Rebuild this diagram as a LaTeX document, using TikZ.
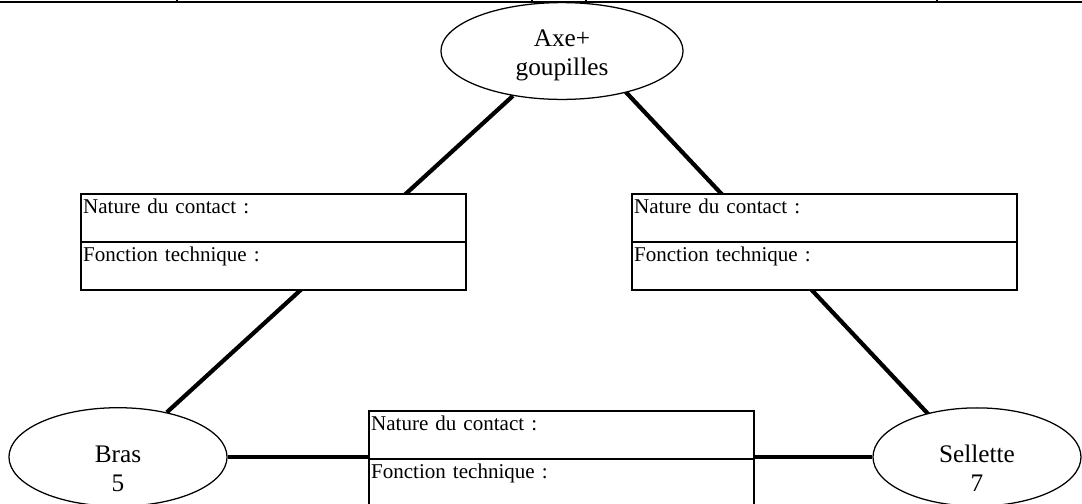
\documentclass[tikz,border=0pt]{standalone}
\usepackage{fontspec}
\setmainfont{Liberation Serif}
\usetikzlibrary{positioning,backgrounds,shapes.geometric}
\tikzset{
  piece/.style={ellipse,draw,line width=0.6pt,fill=white,inner sep=0pt,align=center,
    font=\fontsize{12}{14}\selectfont},
  cell/.style={rectangle,draw,line width=0.7pt,fill=white,anchor=north west,outer sep=0pt,
    text width=180.9pt,inner xsep=1pt,inner ysep=1.4pt,text height=8pt,text depth=12pt,
    align=left,font=\fontsize{10}{12}\selectfont},
  link/.style={line width=2pt}
}

\begin{document}
\begin{tikzpicture}[x=0.475pt,y=-0.475pt]
  \useasboundingbox (0,0) rectangle (1082,504);
  % haut du tableau
  \draw[line width=1pt] (0,2) -- (1082,2);
  \foreach \x in {177,532,586,937} \draw[line width=0.7pt] (\x,0) -- (\x,3);
  % pieces (texte un peu plus bas que le centre)
  \node[piece,minimum width=115pt,minimum height=46pt] (axe) at (562,51) {\mbox{}\\[-2pt]Axe+\\goupilles};
  \node[piece,minimum width=103.6pt,minimum height=44pt] (bras) at (118,457) {\mbox{}\\[5pt]Bras\\5};
  \node[piece,minimum width=98.8pt,minimum height=44pt] (sellette) at (977,457) {\mbox{}\\[5pt]Sellette\\7};
  % liaisons
  \node[cell] (lnat) at (81,194) {Nature du contact :};
  \node[cell,below=0pt of lnat] (lfon) {Fonction technique :};
  \node[cell] (rnat) at (632,194) {Nature du contact :};
  \node[cell,below=0pt of rnat] (rfon) {Fonction technique :};
  \node[cell] (bnat) at (369,411) {Nature du contact :};
  \node[cell,below=0pt of bnat] (bfon) {Fonction technique :};
  \begin{pgfonlayer}{background}
    \draw[link] (axe) -- (bras);
    \draw[link] ([xshift=12pt]axe.center) -- ([xshift=-4pt]sellette.center);
    \draw[link] (bras) -- (sellette);
  \end{pgfonlayer}
\end{tikzpicture}
\end{document}
